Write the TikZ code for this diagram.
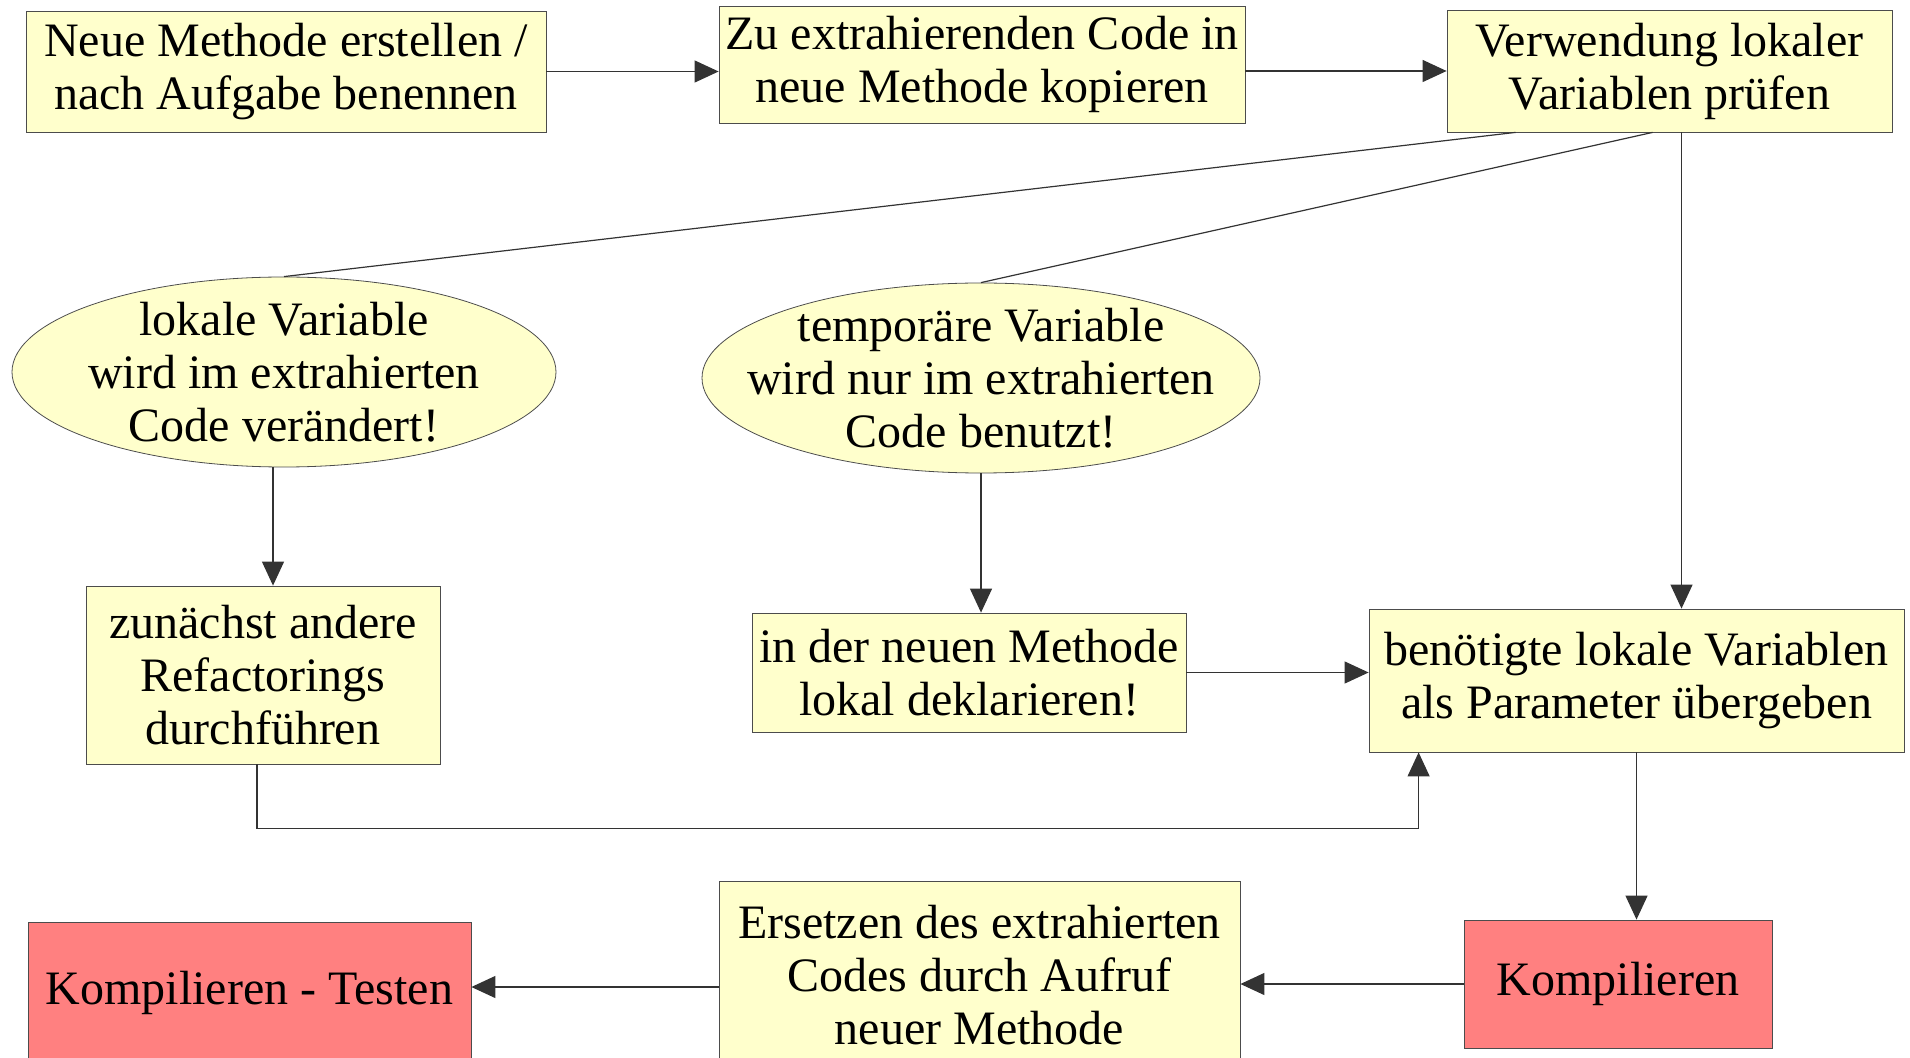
\documentclass[tikz,border=0pt]{standalone}
\usepackage{fontspec}
\setmainfont{Liberation Serif}
\usetikzlibrary{shapes.geometric,arrows.meta}
\definecolor{boxyellow}{HTML}{FFFFCC}
\definecolor{boxred}{HTML}{FF8080}
\tikzset{
  txt/.style={align=center, inner sep=0pt, font=\fontsize{24}{26.5}\selectfont},
  box/.style={txt, draw=black!70, fill=boxyellow},
  redbox/.style={box, fill=boxred},
  oval/.style={ellipse, draw=black!70, fill=boxyellow, inner sep=0pt},
  link/.style={draw=black!80, line width=0.6pt},
  arr/.style={link, -{Triangle[length=12pt,width=11pt]}}
}
\begin{document}
\begin{tikzpicture}[x=0.5pt,y=-0.5pt]
  \useasboundingbox (0,0) rectangle (1910,1058);
  \node[box, minimum width=260pt, minimum height=60.5pt] (neu) at (286,71.5)
    {Neue Methode erstellen /\\nach Aufgabe benennen};
  \node[box, minimum width=263pt, minimum height=58.5pt] (kop) at (982,64.5)
    {Zu extrahierenden Code in\\neue Methode kopieren};
  \node[box, minimum width=222.5pt, minimum height=61pt] (verw) at (1669.5,71)
    {Verwendung lokaler\\Variablen prüfen};
  \node[oval, minimum width=272pt, minimum height=95pt,
    label={[txt]center:lokale Variable\\wird im extrahierten\\Code verändert!}] (lokal) at (284,372) {};
  \node[oval, minimum width=279pt, minimum height=95pt,
    label={[txt]center:temporäre Variable\\wird nur im extrahierten\\Code benutzt!}] (temp) at (981,378) {};
  \node[box, minimum width=177pt, minimum height=89pt] (zun) at (263,675)
    {zunächst andere\\Refactorings\\durchführen};
  \node[box, minimum width=217pt, minimum height=59.5pt] (dekl) at (969,672.5)
    {in der neuen Methode\\lokal deklarieren!};
  \node[box, minimum width=267.5pt, minimum height=71.5pt] (param) at (1636.5,680.5)
    {benötigte lokale Variablen\\als Parameter übergeben};
  \node[redbox, minimum width=154pt, minimum height=64pt] (komp) at (1618,984)
    {Kompilieren};
  \node[box, minimum width=260.5pt, minimum height=94pt] (ers) at (979.5,975)
    {Ersetzen des extrahierten\\Codes durch Aufruf\\neuer Methode};
  \node[redbox, minimum width=221.5pt, minimum height=71pt] (test) at (249.5,993)
    {Kompilieren - Testen};

  \draw[arr] (neu.east) -- (neu.east -| kop.west);
  \draw[arr] (kop.east |- verw.west) -- (verw.west);
  \draw[link] ([xshift=34.5pt]verw.south west) -- (lokal.north);
  \draw[link] ([xshift=103pt]verw.south west) -- (temp.north);
  \draw[arr] ([xshift=6pt]verw.south) -- ([xshift=6pt]verw.south |- param.north);
  \draw[arr] ([xshift=-5.5pt]lokal.south) -- ([xshift=-5.5pt]lokal.south |- zun.north);
  \draw[arr] (temp.south) -- (temp.south |- dekl.north);
  \draw[arr] (dekl.east) -- (dekl.east -| param.west);
  \draw[arr] ([xshift=-3pt]zun.south) -- ++(0,64) -| ([xshift=25pt]param.south west);
  \draw[arr] (param.south) -- (param.south |- komp.north);
  \draw[arr] (komp.west) -- (komp.west -| ers.east);
  \draw[arr] ([yshift=3pt]ers.west |- test.east) -- ([yshift=3pt]test.east);
\end{tikzpicture}
\end{document}
